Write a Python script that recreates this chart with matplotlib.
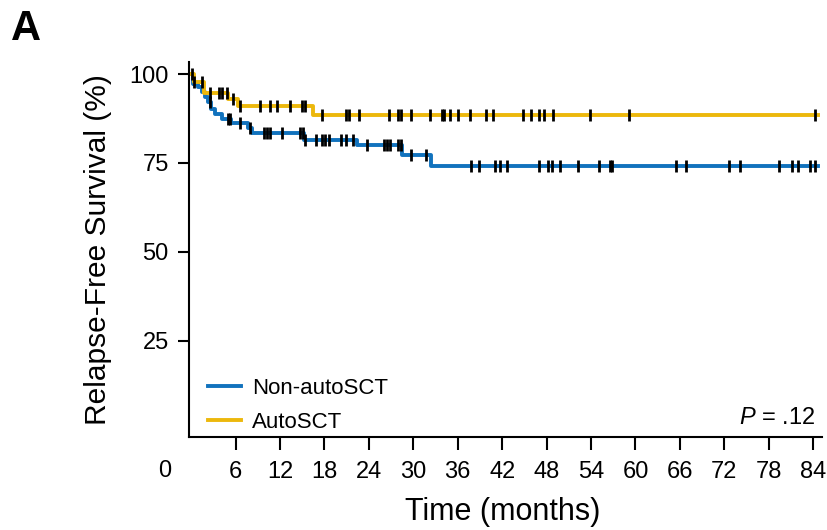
import matplotlib
matplotlib.use("Agg")
import matplotlib.pyplot as plt
import numpy as np

plt.rcParams['font.family'] = ['Liberation Sans', 'DejaVu Sans']
plt.rcParams['mathtext.fontset'] = 'custom'
plt.rcParams['mathtext.rm'] = 'Liberation Sans'
plt.rcParams['mathtext.it'] = 'Liberation Sans:italic'

# Kaplan-Meier steps (months, % relapse-free)
auto_times = [0, 0.4, 1.7, 5.0, 6.3, 16.5, 84.6]
auto_surv = [100, 97.8, 94.6, 92.9, 91.1, 88.5, 88.5]
auto_censor = [0.1, 0.4, 1.4, 2.6, 3.8, 4.1, 4.8, 5.7, 6.6, 9.3, 10.6, 11.6, 13.4,
               15.0, 15.4, 17.7, 20.9, 21.3, 22.7, 26.7, 27.9, 28.4, 29.7, 32.2,
               33.9, 34.2, 34.9, 36.0, 37.7, 39.8, 40.8, 44.8, 45.9, 47.0, 47.6,
               48.9, 53.8, 59.1, 84.2]

non_times = [0, 0.2, 0.9, 1.4, 1.8, 2.3, 2.7, 3.2, 4.2, 5.4, 7.7, 8.2, 15.2, 22.4,
             28.5, 32.4, 84.6]
non_surv = [100, 97.3, 96.3, 94.9, 93.5, 92.1, 90.3, 88.9, 87.5, 86.1, 84.7, 83.4,
            81.5, 80.0, 77.3, 74.1, 74.1]
non_censor = [2.5, 5.0, 5.3, 6.6, 7.9, 9.8, 10.2, 10.7, 12.3, 14.7, 15.1, 15.4, 16.8,
              17.7, 18.1, 18.6, 20.2, 20.9, 21.8, 23.8, 26.1, 26.5, 26.9, 27.9, 28.3,
              29.7, 31.7, 37.8, 38.9, 41.0, 41.7, 42.6, 47.0, 48.2, 48.7, 49.8, 52.3,
              55.1, 56.6, 56.9, 65.5, 66.8, 72.6, 74.1, 79.4, 81.2, 81.9, 83.6, 84.2]

x_ticks = [6, 12, 18, 24, 30, 36, 42, 48, 54, 60, 66, 72, 78, 84]
y_ticks = [25, 50, 75, 100]

blue = '#1172bd'
gold = '#ecb80c'


def step_value(times, surv, t):
    times = np.asarray(times)
    idx = np.searchsorted(times, t, side='right') - 1
    return np.asarray(surv)[idx]


fig = plt.figure(figsize=(8.27, 5.30), dpi=100)
ax = fig.add_axes([0.2285, 0.1755, 0.7655, 0.7075])

ax.step(non_times, non_surv, where='post', color=blue, lw=2.8, label='Non-autoSCT')
ax.step(auto_times, auto_surv, where='post', color=gold, lw=2.8, label='AutoSCT')

# censoring marks
ax.plot(auto_censor, step_value(auto_times, auto_surv, auto_censor), '|',
        color='black', ms=8, mew=2)
ax.plot(non_censor, step_value(non_times, non_surv, non_censor), '|',
        color='black', ms=8, mew=2)

ax.set_xlim(-0.3, 85.2)
ax.set_ylim(-2.1, 103.4)
ax.set_xticks(x_ticks)
ax.set_yticks(y_ticks)
ax.tick_params(axis='x', length=9, width=1.5, pad=8, labelsize=17)
ax.tick_params(axis='y', length=8, width=1.5, pad=6.5, labelsize=17)
for side in ['top', 'right']:
    ax.spines[side].set_visible(False)
for side in ['left', 'bottom']:
    ax.spines[side].set_linewidth(1.5)

ax.text(-0.038, -0.091, '0', transform=ax.transAxes, ha='center', va='center',
        fontsize=17)

ax.set_xlabel('Time (months)', fontsize=22)
ax.xaxis.set_label_coords(0.495, -0.16)
ax.set_ylabel('Relapse-Free Survival (%)', fontsize=21.5)
ax.yaxis.set_label_coords(-0.122, 0.5)

ax.legend(loc='lower left', bbox_to_anchor=(0.03, 0.01), frameon=False,
          fontsize=16, handlelength=1.5, handletextpad=0.5, labelspacing=0.6,
          borderpad=0, borderaxespad=0)

ax.text(0.989, 0.05, r'$P$ = .12', transform=ax.transAxes, ha='right',
        va='center', fontsize=17)

fig.text(0.032, 0.945, 'A', fontsize=30, fontweight='bold', ha='center', va='center')

plt.savefig('out.png', dpi=100)
